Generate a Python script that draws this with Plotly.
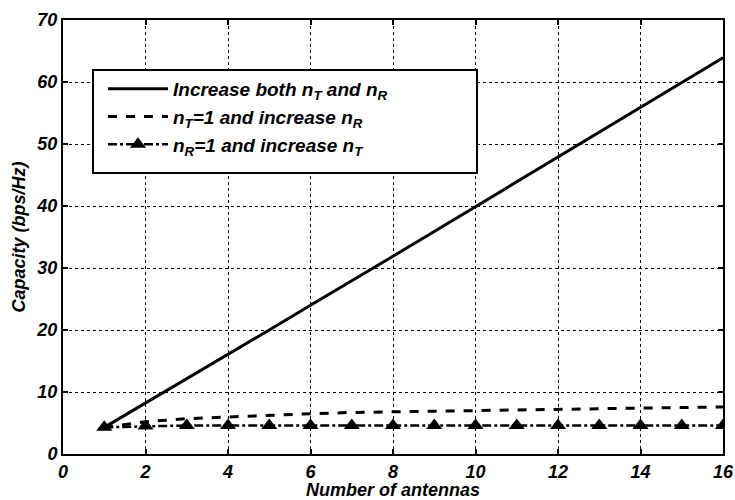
import plotly.graph_objects as go

n_antennas = list(range(1, 17))
cap_both = [4.3, 8.2, 12.1, 16.0, 20.0, 24.0, 27.9, 31.9, 35.9, 39.9, 43.9, 47.9, 51.9, 55.9, 59.9, 63.9]
cap_nt1 = [4.3, 5.2, 5.7, 6.0, 6.3, 6.5, 6.7, 6.8, 7.0, 7.1, 7.2, 7.3, 7.4, 7.5, 7.5, 7.6]
cap_nr1 = [4.3, 4.5, 4.6, 4.6, 4.6, 4.6, 4.6, 4.6, 4.6, 4.6, 4.6, 4.6, 4.6, 4.6, 4.6, 4.6]

x_ticks = list(range(0, 17, 2))
y_ticks = list(range(0, 71, 10))

names = ["<b><i>Increase both n<sub>T</sub> and n<sub>R</sub></i></b>",
         "<b><i>n<sub>T</sub>=1 and increase n<sub>R</sub></i></b>",
         "<b><i>n<sub>R</sub>=1 and increase n<sub>T</sub></i></b>"]

FONT = "Liberation Sans"

fig = go.Figure()
fig.add_trace(go.Scatter(x=n_antennas, y=cap_both, mode="lines",
                         line=dict(color="black", width=3), name=names[0]))
fig.add_trace(go.Scatter(x=n_antennas, y=cap_nt1, mode="lines",
                         line=dict(color="black", width=3, dash="dash"), name=names[1]))
fig.add_trace(go.Scatter(x=n_antennas, y=cap_nr1, mode="lines+markers",
                         line=dict(color="black", width=2.5, dash="dashdot"),
                         marker=dict(symbol="triangle-up", size=14, color="black"),
                         name=names[2]))

axis_common = dict(showline=True, linecolor="black", linewidth=2, mirror="ticks",
                   ticks="inside", ticklen=5, tickwidth=1.5, tickcolor="black",
                   showgrid=True, gridcolor="black", griddash="dot", gridwidth=1,
                   zeroline=False, automargin=False,
                   tickfont=dict(size=18, family=FONT, color="black",
                                 weight=700, style="italic"))

fig.update_xaxes(range=[0, 16], tickvals=x_ticks,
                 title=dict(text="<b><i>Number of antennas</i></b>",
                            font=dict(size=18, family=FONT, color="black"), standoff=10),
                 **axis_common)
fig.update_yaxes(range=[0, 70], tickvals=y_ticks,
                 title=dict(text="<b><i>Capacity (bps/Hz)</i></b>",
                            font=dict(size=18, family=FONT, color="black"), standoff=6),
                 **axis_common)

# legend frame (MATLAB-style wide box)
fig.add_shape(type="rect", xref="paper", yref="paper",
              x0=(93 - 63) / 660, x1=(477 - 63) / 660,
              y0=(454 - 173) / 434, y1=(454 - 70) / 434,
              line=dict(color="black", width=2), fillcolor="white", layer="above")

fig.update_layout(
    width=735, height=500,
    margin=dict(l=63, r=12, t=20, b=46),
    plot_bgcolor="white", paper_bgcolor="white",
    legend=dict(x=(103 - 63) / 660, y=(454 - 70) / 434, xanchor="left", yanchor="top",
                bgcolor="rgba(0,0,0,0)", borderwidth=0,
                font=dict(size=19, family=FONT, color="black"),
                itemwidth=60, tracegroupgap=0),
    showlegend=True,
)

fig.write_html("out.html")
